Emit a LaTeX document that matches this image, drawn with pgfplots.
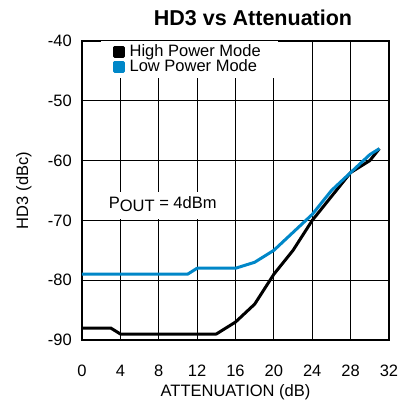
\documentclass[border=0pt]{standalone}
\usepackage{fontspec}
\setmainfont{Liberation Sans}
\usepackage{pgfplots}
\pgfplotsset{compat=1.18}
\definecolor{lowblue}{RGB}{0,135,200}
\begin{document}
\fontsize{16.5}{19}\selectfont
\begin{tikzpicture}
\path (0,0) rectangle (400pt,405pt);
\node[font=\bfseries\fontsize{21.5}{24}\selectfont, inner sep=0pt] at (253pt,387pt) {HD3 vs Attenuation};
\begin{axis}[
  at={(82pt,65pt)}, anchor=south west,
  width=307pt, height=299pt, scale only axis,
  xmin=0, xmax=32, ymin=-90, ymax=-40,
  xtick={0,4,...,32}, ytick={-90,-80,...,-40},
  yticklabels={-90,-80,-70,-60,-50,-40},
  /pgf/number format/assume math mode=true,
  grid=major,
  grid style={black, line width=0.8pt},
  major tick length=0pt,
  axis line style={line width=2.6pt},
  xticklabel style={anchor=center, yshift=-31pt},
  yticklabel style={anchor=east, inner sep=0pt, xshift=-10pt},
  xlabel={ATTENUATION (dB)},
  xlabel style={at={(axis description cs:0.5,0)}, anchor=center, inner sep=0pt, yshift=-52pt},
  ylabel={HD3 (dBc)},
  ylabel style={at={(axis description cs:-0.189,0.5)}, anchor=center, inner sep=0pt},
  legend image code/.code={\fill[#1] (0pt,-4.5pt) rectangle (9pt,4.5pt);},
  legend cell align=left,
  legend style={at={(axis description cs:0.06,1)}, anchor=north west,
    draw=none, fill=white, inner xsep=12pt, inner ysep=3.5pt, row sep=0pt,
    nodes={inner ysep=0pt, inner xsep=5pt, text height=11.5pt, text depth=3.5pt}},
]
% High Power Mode
\addplot[black, line width=3pt, line join=round] coordinates {
  (0,-88) (3,-88) (4,-89) (14,-89) (16,-87) (18,-84) (20,-79)
  (22,-75) (24,-70) (26,-66) (28,-62) (30,-60) (31,-58)};
\addlegendentry{High Power Mode}
% Low Power Mode
\addplot[lowblue, line width=3pt, line join=round] coordinates {
  (0,-79) (11,-79) (12,-78) (16,-78) (18,-77) (20,-75) (22,-72)
  (24,-69) (26,-65) (28,-62) (30,-59) (31,-58)};
\addlegendentry{Low Power Mode}
\node[fill=white, anchor=west, inner xsep=0pt, inner ysep=0pt,
  text height=17pt, text depth=10pt] at (axis cs:2.36,-67.5)
  {\hspace*{4pt}P\raisebox{-3pt}{OUT} = 4dBm\hspace*{18pt}};
\end{axis}
\end{tikzpicture}
\end{document}
